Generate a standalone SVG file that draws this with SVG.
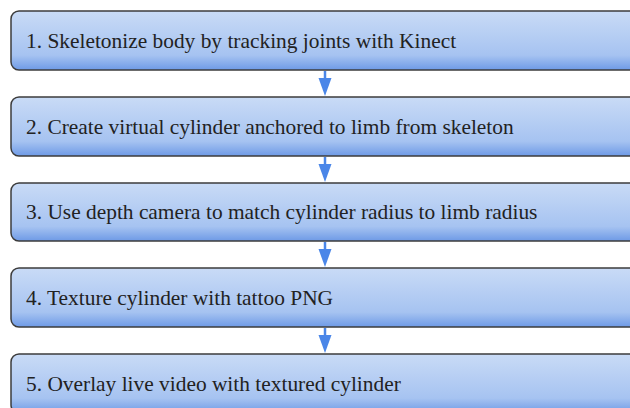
<svg xmlns="http://www.w3.org/2000/svg" width="630" height="408" viewBox="0 0 630 408">
<defs>
<linearGradient id="g" x1="0" y1="0" x2="0" y2="1">
<stop offset="0" stop-color="#c9dbf6"/>
<stop offset="0.75" stop-color="#a6c3f1"/>
<stop offset="1" stop-color="#6e9ae6"/>
</linearGradient>
<style>
.box{fill:url(#g);stroke:#3c3c3c;stroke-width:1.5}
.t{font-family:"Liberation Serif",serif;font-size:21.4px;fill:#222}
.c{stroke:#4a86e8;stroke-width:2.5;fill:none}
.h{fill:#4a86e8}
</style>
</defs>
<g id="connectors">
<line class="c" x1="325" y1="71" x2="325" y2="80"/><polygon class="h" points="318.5,78 331.5,78 325,96"/>
<line class="c" x1="325" y1="157" x2="325" y2="166"/><polygon class="h" points="318.5,164 331.5,164 325,182"/>
<line class="c" x1="325" y1="242" x2="325" y2="251"/><polygon class="h" points="318.5,249 331.5,249 325,267"/>
<line class="c" x1="325" y1="328" x2="325" y2="337"/><polygon class="h" points="318.5,335 331.5,335 325,353"/>
</g>
<g id="n1"><rect class="box" x="11" y="11" width="640" height="59" rx="8"/><text class="t" x="26" y="48">1. Skeletonize body by tracking joints with Kinect</text></g>
<g id="n2"><rect class="box" x="11" y="97" width="640" height="59" rx="8"/><text class="t" x="26" y="134">2. Create virtual cylinder anchored to limb from skeleton</text></g>
<g id="n3"><rect class="box" x="11" y="183" width="640" height="58" rx="8"/><text class="t" x="26" y="219">3. Use depth camera to match cylinder radius to limb radius</text></g>
<g id="n4"><rect class="box" x="11" y="268" width="640" height="59" rx="8"/><text class="t" x="26" y="305">4. Texture cylinder with tattoo PNG</text></g>
<g id="n5"><rect class="box" x="11" y="354" width="640" height="59" rx="8"/><text class="t" x="26" y="391">5. Overlay live video with textured cylinder</text></g>
</svg>
